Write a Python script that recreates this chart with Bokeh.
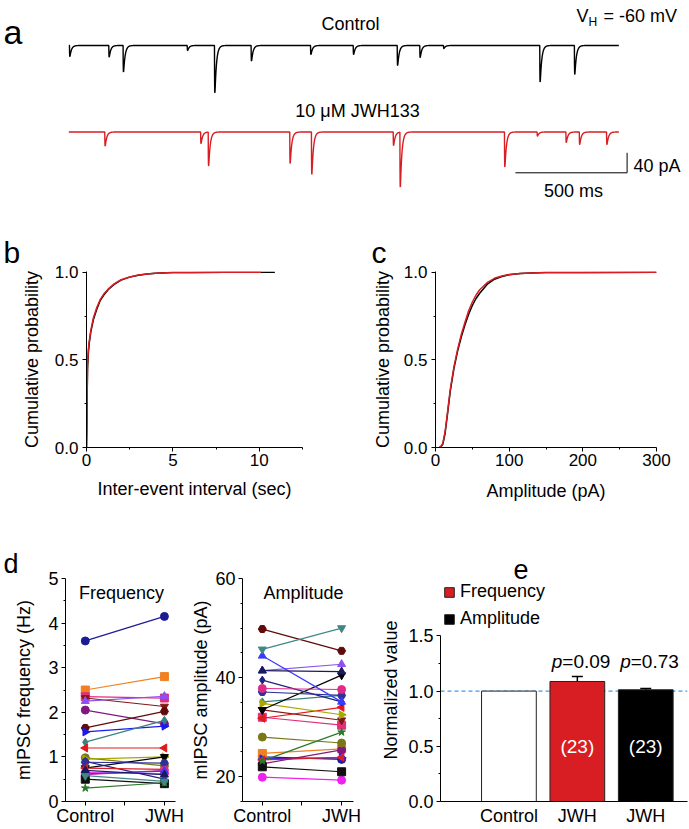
import numpy as np
from bokeh.plotting import figure
from bokeh.layouts import column, row
from bokeh.models import (Range1d, FixedTicker, NumeralTickFormatter, Label, Span, Whisker,
                          ColumnDataSource, Legend, LegendItem, TeeHead, Title)
from bokeh.core.properties import value
from bokeh.embed import file_html
from bokeh.resources import INLINE

FONT = "Liberation Sans"
RED = "#d81e22"

# ---------------- data ----------------
# (a) example traces: event onset times (ms) and peak amplitudes (pA)
trace_length_ms = 2462
control_event_ms = [3, 179, 243, 530, 652, 816, 1082, 1273, 1470, 1571, 1677, 2108, 2263]
control_event_pA = [22, 23, 53, 10, 95, 31, 18, 18, 40, 24, 6, 73, 58]
jwh_event_ms = [161, 590, 624, 989, 1086, 1452, 1482, 1950, 2096, 2225, 2285, 2407]
jwh_event_pA = [28, 23, 68, 63, 85, 27, 110, 70, 8, 21, 25, 25]
scale_ms = 500
scale_pA = 40

# (b) cumulative inter-event interval (sec)
iei_ctrl_x = [0, 0.02, 0.04, 0.06, 0.1, 0.15, 0.25, 0.4, 0.6, 0.8, 1.0, 1.3, 1.6, 2.0, 2.5, 3.0, 3.5, 4.0, 5.0, 6.0, 8.0, 10.9]
iei_ctrl_y = [0, 0.1, 0.3, 0.45, 0.53, 0.59, 0.66, 0.73, 0.79, 0.84, 0.87, 0.905, 0.93, 0.955, 0.972, 0.983, 0.99, 0.994, 0.998, 0.999, 1.0, 1.0]
iei_jwh_x = [0, 0.02, 0.04, 0.06, 0.1, 0.15, 0.25, 0.4, 0.6, 0.8, 1.0, 1.3, 1.6, 2.0, 2.5, 3.0, 3.5, 4.0, 5.0, 6.0, 8.0, 10.1]
iei_jwh_y = [0, 0.1, 0.32, 0.48, 0.55, 0.6, 0.67, 0.74, 0.8, 0.845, 0.875, 0.908, 0.933, 0.957, 0.973, 0.984, 0.99, 0.994, 0.998, 0.999, 1.0, 1.0]

# (c) cumulative amplitude (pA)
amp_cdf_x = [5, 7, 10, 13, 16, 20, 25, 30, 35, 40, 45, 50, 55, 60, 70, 80, 90, 100, 115, 130, 150, 200, 300]
amp_ctrl_y = [0, 0.003, 0.02, 0.08, 0.18, 0.32, 0.45, 0.55, 0.63, 0.70, 0.76, 0.81, 0.85, 0.88, 0.93, 0.96, 0.975, 0.985, 0.992, 0.996, 0.998, 0.999, 1.0]
amp_jwh_y = [0, 0.004, 0.025, 0.09, 0.19, 0.33, 0.46, 0.56, 0.645, 0.715, 0.78, 0.83, 0.87, 0.9, 0.94, 0.965, 0.978, 0.987, 0.993, 0.996, 0.998, 0.999, 1.0]

# (d) per-cell values (23 cells)
conditions = ["Control", "JWH"]
freq_control = [3.60, 2.50, 2.35, 2.32, 2.25, 2.05, 1.65, 1.56, 1.33, 1.20, 0.98, 0.95, 0.75, 0.90, 0.88, 0.75, 0.65, 0.60, 0.62, 0.50, 0.30, 0.58, 0.70]
freq_jwh = [4.15, 2.80, 2.32, 2.13, 2.36, 1.74, 2.02, 1.69, 1.82, 1.20, 0.80, 1.00, 1.00, 0.50, 0.86, 0.72, 0.62, 0.70, 0.68, 0.40, 0.42, 0.45, 0.60]
amp_control = [24.0, 24.7, 32.0, 33.5, 41.4, 22.6, 49.8, 23.6, 35.1, 31.8, 28.0, 34.8, 33.5, 39.5, 37.1, 23.4, 19.9, 37.8, 44.4, 22.0, 23.2, 45.7, 41.4]
amp_jwh = [23.5, 25.6, 30.4, 31.4, 42.7, 25.4, 45.4, 23.8, 36.4, 34.0, 26.8, 32.5, 40.5, 35.1, 36.4, 23.9, 19.3, 37.6, 35.1, 21.0, 29.0, 50.0, 41.2]

# (e) normalized values
bar_labels = ["Control", "JWH", "JWH"]
bar_values = [1.0, 1.087, 1.012]
bar_errors = [0.0, 0.045, 0.012]
bar_n = ["", "(23)", "(23)"]
p_values = ["", "=0.09", "=0.73"]
legend_names = ["Frequency", "Amplitude"]

# ---------------- styles ----------------
cell_colors = ["#1c1c96", "#f08020", "#e0307a", "#801818", "#9050f0", "#801880", "#600a0a",
               "#1a1af0", "#3a8282", "#e01a1a", "#787818", "#a8a800", "#000000", "#202080",
               "#303098", "#d8202a", "#f020f0", "#e02a8a", "#3a3aff", "#101010", "#2a7a2a",
               "#408888", "#1a1a60"]
cell_markers = ["circle", "square", "square", "inverted_triangle", "triangle", "circle", "hex",
                "triangle", "diamond", "triangle", "circle", "triangle", "inverted_triangle", "diamond",
                "hex", "triangle", "circle", "circle", "triangle", "square", "star",
                "inverted_triangle", "triangle"]
R, L = -np.pi / 2, np.pi / 2
cell_angles = [0, 0, 0, 0, 0, 0, 0, R, 0, L, 0, R, 0, 0, 0, L, 0, 0, 0, 0, 0, 0, 0]


def style(p, tick_size="18px", label_size="18px"):
    p.outline_line_color = None
    for g in p.grid:
        g.visible = False
    for ax in p.axis:
        ax.axis_line_color = "black"
        ax.major_tick_line_color = "black"
        ax.minor_tick_line_color = "black"
        ax.major_tick_in = 0
        ax.major_tick_out = 4
        ax.minor_tick_in = 0
        ax.minor_tick_out = 2
        ax.major_label_text_font = FONT
        ax.major_label_text_font_size = tick_size
        ax.major_label_text_color = "black"
        ax.axis_label_text_font = FONT
        ax.axis_label_text_font_size = label_size
        ax.axis_label_text_font_style = "normal"
        ax.axis_label_text_color = "black"


def label(p, sx, sy, text, size, align="left", baseline="middle", **kw):
    p.add_layout(Label(x=sx, y=sy, x_units="screen", y_units="screen", text=text,
                       text_font=FONT, text_font_size=size, text_align=align,
                       text_baseline=baseline, text_color="black", **kw))


def panel_letter(p, text, offset, standoff, size):
    p.add_layout(Title(text=text, align="left", offset=offset, standoff=standoff,
                       vertical_align="bottom", text_font=FONT, text_font_size=size,
                       text_font_style="normal", text_color="black"), "above")


def fig(w, h, xr, yr, left, right, top, bottom, **kw):
    return figure(width=w, height=h, x_range=xr, y_range=yr, output_backend="svg",
                  toolbar_location=None, min_border_left=left, min_border_right=right,
                  min_border_top=top, min_border_bottom=bottom, title=None, **kw)


# ---------------- panel a ----------------
t = np.arange(0, trace_length_ms + 0.5, 0.5)
tau_r, tau_d = 0.7, 7.0


def build_trace(times, amps):
    y = np.zeros_like(t)
    grid = np.arange(0, 50, 0.05)
    norm = np.max(np.exp(-grid / tau_d) - np.exp(-grid / tau_r))
    for t0, a in zip(times, amps):
        dt = t - t0
        m = dt >= 0
        y[m] -= a * (np.exp(-dt[m] / tau_d) - np.exp(-dt[m] / tau_r)) / norm
    return y


jwh_offset = -173
pa = fig(689, 205, Range1d(-305.7, 2778.3), Range1d(-320, 90), 0, 0, 0, 0,
         x_axis_location=None, y_axis_location=None)
pa.min_border = 0
style(pa)
pa.line(t, build_trace(control_event_ms, control_event_pA), line_color="black", line_width=1.4)
pa.line(t, build_trace(jwh_event_ms, jwh_event_pA) + jwh_offset, line_color=RED, line_width=1.4)
sb_t, sb_y = 2499, -254.6
pa.line([sb_t - scale_ms, sb_t, sb_t], [sb_y, sb_y, sb_y + scale_pA], line_color="black", line_width=1)
label(pa, 3, 174, "a", "34px", baseline="alphabetic")
label(pa, 350, 182, "Control", "18px", align="center")
label(pa, 357, 95, "10 μM JWH133", "18px", align="center")
label(pa, 576, 190, "V", "18px")
label(pa, 588, 184, "H", "12px")
label(pa, 603, 190, "= -60 mV", "18px")
label(pa, 633, 40, f"{scale_pA} pA", "18px")
label(pa, 573, 15, f"{scale_ms} ms", "18px", align="center")

# ---------------- panel b ----------------
pb = fig(340, 300, Range1d(0, 12.5), Range1d(0, 1.004), 86, 38, 66, 58)
style(pb, tick_size="17px")
pb.xaxis.ticker = FixedTicker(ticks=[0, 5, 10], minor_ticks=[2.5, 7.5, 12.5])
pb.yaxis.ticker = FixedTicker(ticks=[0, 0.5, 1.0], minor_ticks=[0.25, 0.75])
pb.yaxis.formatter = NumeralTickFormatter(format="0.0")
pb.xaxis.axis_label = "Inter-event interval (sec)"
pb.yaxis.axis_label = "Cumulative probability"
pb.yaxis.major_label_standoff = 4
pb.yaxis.axis_label_standoff = 10
pb.xaxis.major_label_standoff = 2
pb.xaxis.axis_label_standoff = 10
pb.line(iei_ctrl_x, iei_ctrl_y, line_color="black", line_width=1.5)
pb.line(iei_jwh_x, iei_jwh_y, line_color=RED, line_width=1.5)
panel_letter(pb, "b", -83, 6, "30px")

# ---------------- panel c ----------------
pc = fig(349, 300, Range1d(0, 300), Range1d(0, 1.004), 95, 33, 66, 58)
style(pc, tick_size="17px")
pc.xaxis.ticker = FixedTicker(ticks=[0, 100, 200, 300], minor_ticks=[50, 150, 250])
pc.yaxis.ticker = FixedTicker(ticks=[0, 0.5, 1.0], minor_ticks=[0.25, 0.75])
pc.yaxis.formatter = NumeralTickFormatter(format="0.0")
pc.xaxis.axis_label = "Amplitude (pA)"
pc.yaxis.axis_label = "Cumulative probability"
pc.yaxis.major_label_standoff = 4
pc.yaxis.axis_label_standoff = 8
pc.xaxis.major_label_standoff = 2
pc.xaxis.axis_label_standoff = 12
pc.line(amp_cdf_x, amp_ctrl_y, line_color="black", line_width=1.5)
pc.line(amp_cdf_x, amp_jwh_y, line_color=RED, line_width=1.5)
panel_letter(pc, "c", -64, 6, "30px")


# ---------------- panel d ----------------
def paired(p, ctrl, jwh):
    xs = [1, 2]
    for i in range(len(ctrl)):
        p.line(xs, [ctrl[i], jwh[i]], line_color=cell_colors[i], line_width=1.2)
        p.scatter(xs, [ctrl[i], jwh[i]], marker=cell_markers[i], size=8, angle=cell_angles[i],
                  fill_color=cell_colors[i], line_color=cell_colors[i])
    p.xaxis.ticker = FixedTicker(ticks=[1, 1.5, 2])
    p.xaxis.major_label_overrides = {1: conditions[0], 1.5: "", 2: conditions[1]}
    p.xaxis.major_label_standoff = 0


TOP3, BOT3, H3 = 73, 28, 324

pd1 = fig(185, H3, Range1d(0.75, 2.14), Range1d(0, 5), 65, 10, TOP3, BOT3)
style(pd1)
pd1.yaxis.ticker = FixedTicker(ticks=[0, 1, 2, 3, 4, 5], minor_ticks=[0.5, 1.5, 2.5, 3.5, 4.5])
pd1.yaxis.axis_label = "mIPSC frequency (Hz)"
pd1.yaxis.major_label_standoff = 3
pd1.yaxis.axis_label_standoff = 11
paired(pd1, freq_control, freq_jwh)
label(pd1, 56, 209, "Frequency", "18px", align="center")
panel_letter(pd1, "d", -62, 0, "27px")

pd2 = fig(193, H3, Range1d(0.75, 2.15), Range1d(15, 60), 57, 25, TOP3, BOT3)
style(pd2)
pd2.yaxis.ticker = FixedTicker(ticks=[20, 40, 60], minor_ticks=[15, 25, 30, 35, 45, 50, 55])
pd2.yaxis.axis_label = "mIPSC amplitude (pA)"
pd2.yaxis.major_label_standoff = 3
pd2.yaxis.axis_label_standoff = 1
paired(pd2, amp_control, amp_jwh)
label(pd2, 61, 209, "Amplitude", "18px", align="center")

# ---------------- panel e ----------------
pe = fig(311, H3, Range1d(0, 3.61), Range1d(0, 2.02), 59, 2, TOP3, BOT3)
style(pe)
pe.yaxis.ticker = FixedTicker(ticks=[0, 0.5, 1.0, 1.5], minor_ticks=[0.25, 0.75, 1.25])
pe.yaxis.bounds = (0, 1.5)
pe.yaxis.formatter = NumeralTickFormatter(format="0.0")
pe.yaxis.axis_label = "Normalized value"
pe.yaxis.major_label_standoff = 3
pe.yaxis.axis_label_standoff = 4
bar_x = [1, 2, 3]
pe.xaxis.ticker = FixedTicker(ticks=bar_x)
pe.xaxis.major_label_overrides = {x: l for x, l in zip(bar_x, bar_labels)}
pe.xaxis.major_tick_out = 0
pe.xaxis.major_label_standoff = 4
pe.add_layout(Span(location=1.0, dimension="width", line_color="#3b9cf0", line_width=1.3,
                   line_dash="4 3", level="underlay"))
fills = ["white", RED, "black"]
bars = []
for i in range(3):
    bars.append(pe.vbar(x=[bar_x[i]], top=[bar_values[i]], width=0.8, fill_color=fills[i],
                        line_color="#222222", line_width=1))
err_src = ColumnDataSource(dict(base=bar_x[1:], upper=[v + e for v, e in zip(bar_values[1:], bar_errors[1:])],
                                lower=[v - e for v, e in zip(bar_values[1:], bar_errors[1:])]))
pe.add_layout(Whisker(source=err_src, base="base", upper="upper", lower="lower", line_color="black",
                      line_width=1.5,
                      upper_head=TeeHead(size=11, line_color="black", line_width=1.5),
                      lower_head=TeeHead(size=11, line_color="black", line_width=1.5)))
pe.text(x=bar_x[1:], y=[0.5, 0.5], text=bar_n[1:], text_color="white", text_font=value(FONT),
        text_font_size="19px", text_align="center", text_baseline="middle")
pe.text(x=bar_x[1:], y=[1.27, 1.27], text=["p", "p"], text_color="black", text_font=value(FONT),
        text_font_size="19px", text_font_style="italic", text_align="right", text_baseline="middle",
        x_offset=-15)
pe.text(x=bar_x[1:], y=[1.27, 1.27], text=p_values[1:], text_color="black", text_font=value(FONT),
        text_font_size="19px", text_align="left", text_baseline="middle", x_offset=-15)
legend = Legend(items=[LegendItem(label=legend_names[0], renderers=[bars[1]]),
                       LegendItem(label=legend_names[1], renderers=[bars[2]])],
                location=(3, 172), glyph_width=12, glyph_height=12, label_height=21, spacing=6,
                padding=0, margin=0, label_standoff=5, border_line_color=None,
                background_fill_alpha=0, label_text_font=FONT, label_text_font_size="18px",
                label_text_color="black")
pe.add_layout(legend)
panel_letter(pe, "e", 73, 0, "27px")

layout = column(pa, row(pb, pc), row(pd1, pd2, pe))
open("out.html", "w").write(file_html(layout, INLINE))
